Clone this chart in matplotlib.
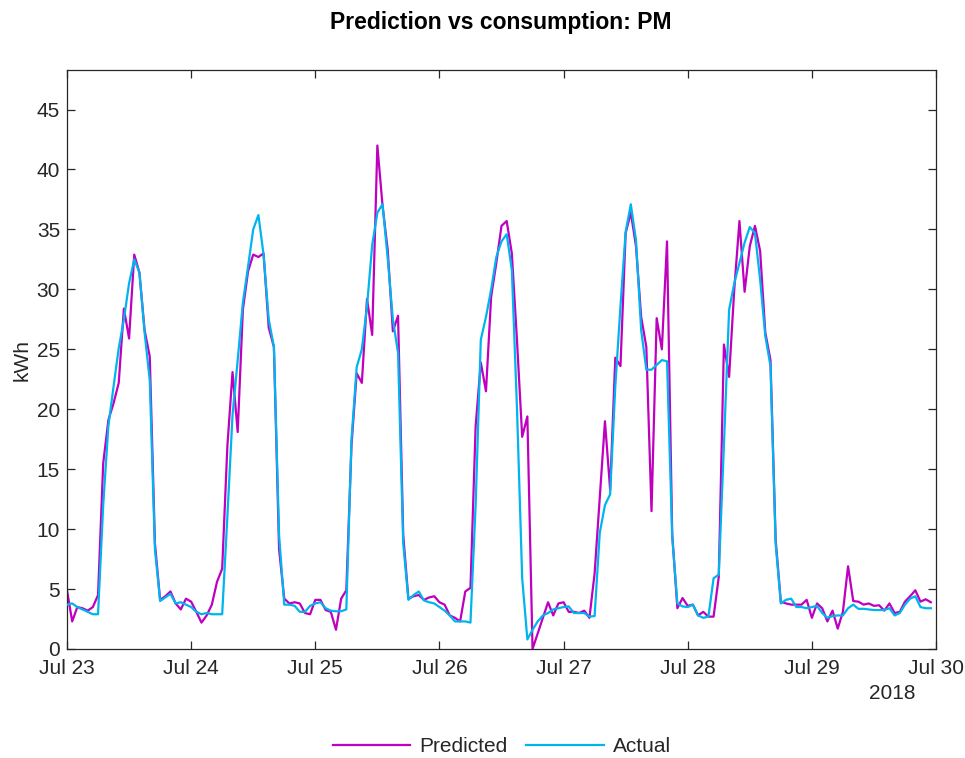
import matplotlib
matplotlib.use("Agg")
import matplotlib.pyplot as plt
import matplotlib.dates as mdates
import numpy as np
import pandas as pd

plt.rcParams['font.family'] = ['Liberation Sans', 'DejaVu Sans']

# Hourly series, Jul 23 00:00 .. Jul 29 23:00 2018
start = "2018-07-23 00:00"
n_hours = 168

predicted = [
    # Jul 23
    4.9, 2.3, 3.5, 3.4, 3.2, 3.5, 4.5, 15.5, 19.1, 20.5, 22.2, 28.4,
    25.9, 32.9, 31.4, 26.6, 24.4, 8.8, 4.1, 4.4, 4.8, 3.8, 3.3, 4.2,
    # Jul 24
    3.95, 3.1, 2.2, 2.8, 3.7, 5.6, 6.7, 16.9, 23.1, 18.1, 28.3, 31.5,
    32.9, 32.7, 33.0, 26.8, 25.2, 8.3, 4.2, 3.8, 3.9, 3.8, 3.0, 2.9,
    # Jul 25
    4.1, 4.1, 3.25, 3.1, 1.6, 4.2, 4.9, 17.0, 23.0, 22.2, 29.2, 26.2,
    42.0, 37.0, 33.3, 26.5, 27.8, 9.5, 4.2, 4.4, 4.5, 4.1, 4.3, 4.4,
    # Jul 26
    3.9, 3.7, 2.8, 2.6, 2.3, 4.8, 5.1, 18.6, 23.9, 21.5, 29.4, 32.2,
    35.3, 35.7, 33.0, 25.7, 17.7, 19.4, 0.0, 1.3, 2.6, 3.9, 2.8, 3.8,
    # Jul 27
    3.9, 3.1, 3.1, 3.0, 3.2, 2.6, 6.3, 12.7, 19.0, 13.3, 24.3, 23.6,
    34.7, 36.4, 33.6, 27.7, 25.2, 11.5, 27.6, 25.0, 34.0, 9.6, 3.4, 4.25,
    # Jul 28
    3.6, 3.7, 2.8, 3.1, 2.7, 2.7, 6.0, 25.4, 22.7, 30.0, 35.7, 29.8,
    33.6, 35.3, 33.2, 26.4, 24.1, 9.1, 3.95, 3.8, 3.7, 3.7, 3.7, 4.1,
    # Jul 29
    2.6, 3.8, 3.4, 2.3, 3.2, 1.7, 3.1, 6.9, 4.0, 3.95, 3.7, 3.8,
    3.6, 3.65, 3.2, 3.8, 3.0, 3.1, 3.95, 4.4, 4.9, 3.95, 4.15, 3.9,
]

actual = [
    # Jul 23
    3.7, 3.8, 3.5, 3.3, 3.1, 2.9, 2.9, 12.0, 18.6, 21.9, 25.1, 27.5,
    30.5, 32.5, 31.4, 26.4, 22.4, 8.3, 4.0, 4.3, 4.6, 3.8, 3.9, 3.7,
    # Jul 24
    3.5, 3.1, 2.9, 3.0, 2.9, 2.9, 2.9, 11.0, 19.5, 24.1, 28.9, 31.9,
    35.0, 36.2, 32.9, 27.5, 25.2, 9.5, 3.7, 3.7, 3.6, 3.1, 3.1, 3.6,
    # Jul 25
    3.8, 3.9, 3.4, 3.2, 3.15, 3.15, 3.3, 17.5, 23.5, 25.0, 28.6, 33.7,
    36.4, 37.1, 32.6, 27.5, 24.7, 8.8, 4.1, 4.5, 4.8, 4.05, 3.9, 3.8,
    # Jul 26
    3.5, 3.2, 2.8, 2.3, 2.3, 2.3, 2.2, 12.0, 25.8, 27.7, 30.0, 32.7,
    34.0, 34.6, 31.6, 20.0, 5.9, 0.8, 1.6, 2.3, 2.8, 3.0, 3.3, 3.4,
    # Jul 27
    3.5, 3.55, 3.0, 3.0, 3.0, 2.7, 2.75, 9.7, 12.0, 12.9, 21.9, 28.6,
    34.8, 37.1, 34.1, 26.6, 23.3, 23.3, 23.7, 24.1, 24.0, 9.4, 3.8, 3.55,
    # Jul 28
    3.5, 3.7, 2.8, 2.6, 2.7, 5.9, 6.2, 17.0, 28.3, 30.5, 32.2, 33.9,
    35.2, 34.7, 30.8, 26.1, 23.6, 8.8, 3.8, 4.1, 4.2, 3.5, 3.5, 3.4,
    # Jul 29
    3.5, 3.6, 3.0, 2.6, 2.75, 2.8, 2.8, 3.4, 3.7, 3.35, 3.35, 3.3,
    3.25, 3.25, 3.25, 3.4, 2.8, 3.0, 3.7, 4.2, 4.4, 3.5, 3.4, 3.4,
]

series_names = ["Predicted", "Actual"]
y_ticks = [0, 5, 10, 15, 20, 25, 30, 35, 40, 45]
year_label = "2018"
title = "Prediction vs consumption: PM"
y_label = "kWh"

times = pd.date_range(start, periods=n_hours, freq="h")

c_pred = "#bf00bf"
c_act = "#00b4ee"
axis_col = "#262626"
fs = 15

fig = plt.figure(figsize=(9.65, 7.58), dpi=100)
ax = fig.add_axes([67 / 965, 1 - 649 / 758, (936 - 67) / 965, (649 - 70) / 758])

ax.plot(times, predicted, color=c_pred, lw=1.6, label=series_names[0], zorder=2)
ax.plot(times, actual, color=c_act, lw=1.6, label=series_names[1], zorder=3)

ax.set_xlim(pd.Timestamp("2018-07-23"), pd.Timestamp("2018-07-30"))
ax.set_ylim(0, 48.3)
ax.set_yticks(y_ticks)
ax.xaxis.set_major_locator(mdates.DayLocator())
ax.xaxis.set_major_formatter(mdates.DateFormatter("%b %d"))

for s in ax.spines.values():
    s.set_color(axis_col)
    s.set_linewidth(0.9)
ax.tick_params(axis="both", which="major", direction="in", length=6, width=0.9,
               color=axis_col, labelcolor=axis_col, labelsize=fs,
               top=True, right=True)
ax.tick_params(axis="x", pad=7)
ax.tick_params(axis="y", pad=5)

ax.set_ylabel(y_label, fontsize=fs, color=axis_col)
ax.yaxis.set_label_coords(-0.041, 0.5)

ax.text(0.95, -0.076, year_label, transform=ax.transAxes, ha="center", va="center",
        fontsize=fs, color=axis_col)

fig.text(501 / 965, 1 - 22 / 758, title, ha="center", va="center",
         fontsize=16.5, fontweight="bold", color="black")

fig.legend(loc="center", bbox_to_anchor=(502 / 965, 1 - 747 / 758), ncol=2,
           frameon=False, fontsize=fs, handlelength=3.7, handletextpad=0.43,
           columnspacing=0.9, labelcolor=axis_col)

fig.savefig("out.png", dpi=100)
